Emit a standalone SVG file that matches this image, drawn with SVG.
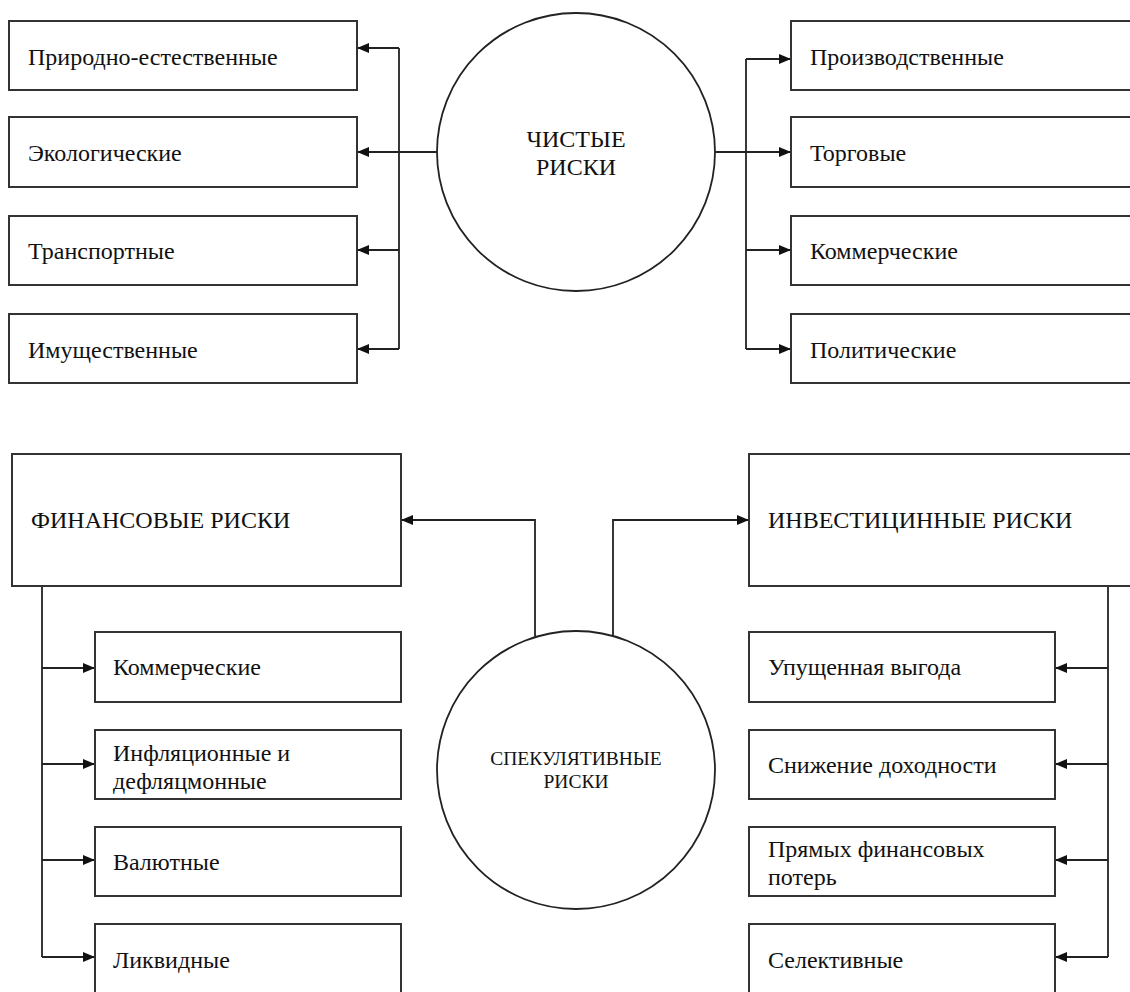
<svg xmlns="http://www.w3.org/2000/svg" width="1130" height="992" viewBox="0 0 1130 992">
<style>
.box{fill:#fff;stroke:#333;stroke-width:2}
.circ{fill:#fff;stroke:#222;stroke-width:1.8}
.t{font-family:"Liberation Serif","Times New Roman",serif;font-size:24px;fill:#111}
.tc{font-family:"Liberation Serif","Times New Roman",serif;font-size:24px;fill:#111;text-anchor:middle}
.ts{font-family:"Liberation Serif","Times New Roman",serif;font-size:19.5px;fill:#111;text-anchor:middle}
.c{fill:none;stroke:#222;stroke-width:1.8}
</style>
<defs>
<marker id="ah" viewBox="0 0 12 10" refX="12" refY="5" markerWidth="12" markerHeight="10" markerUnits="userSpaceOnUse" orient="auto">
<path d="M0,0 L12,5 L0,10 Z" fill="#111"/>
</marker>
</defs>
<rect width="1130" height="992" fill="#fff"/>
<g id="connectors">
<path class="c" d="M399,48 V349"/>
<path class="c" d="M437,152 H399"/>
<path class="c" d="M399,48 H357" marker-end="url(#ah)"/>
<path class="c" d="M399,152 H357" marker-end="url(#ah)"/>
<path class="c" d="M399,250 H357" marker-end="url(#ah)"/>
<path class="c" d="M399,349 H357" marker-end="url(#ah)"/>
<path class="c" d="M746,59 V349"/>
<path class="c" d="M715,152 H791" marker-end="url(#ah)"/>
<path class="c" d="M746,59 H791" marker-end="url(#ah)"/>
<path class="c" d="M746,250 H791" marker-end="url(#ah)"/>
<path class="c" d="M746,349 H791" marker-end="url(#ah)"/>
<path class="c" d="M535,636 V520 H401" marker-end="url(#ah)"/>
<path class="c" d="M613,636 V520 H749" marker-end="url(#ah)"/>
<path class="c" d="M42,586 V957"/>
<path class="c" d="M42,668 H95" marker-end="url(#ah)"/>
<path class="c" d="M42,764 H95" marker-end="url(#ah)"/>
<path class="c" d="M42,860 H95" marker-end="url(#ah)"/>
<path class="c" d="M42,957 H95" marker-end="url(#ah)"/>
<path class="c" d="M1108,586 V957"/>
<path class="c" d="M1108,668 H1055" marker-end="url(#ah)"/>
<path class="c" d="M1108,764 H1055" marker-end="url(#ah)"/>
<path class="c" d="M1108,860 H1055" marker-end="url(#ah)"/>
<path class="c" d="M1108,957 H1055" marker-end="url(#ah)"/>
</g>
<g id="pure-risks"><circle class="circ" cx="576" cy="152" r="139"/><text class="tc" x="576" y="147">ЧИСТЫЕ</text><text class="tc" x="576" y="175">РИСКИ</text></g>
<g id="l1"><rect class="box" x="9" y="21" width="348" height="69"/><text class="t" x="28" y="65">Природно-естественные</text></g>
<g id="l2"><rect class="box" x="9" y="117" width="348" height="70"/><text class="t" x="28" y="161">Экологические</text></g>
<g id="l3"><rect class="box" x="9" y="216" width="348" height="69"/><text class="t" x="28" y="259">Транспортные</text></g>
<g id="l4"><rect class="box" x="9" y="314" width="348" height="69"/><text class="t" x="28" y="358">Имущественные</text></g>
<g id="r1"><rect class="box" x="791" y="21" width="345" height="69"/><text class="t" x="810" y="65">Производственные</text></g>
<g id="r2"><rect class="box" x="791" y="117" width="345" height="70"/><text class="t" x="810" y="161">Торговые</text></g>
<g id="r3"><rect class="box" x="791" y="216" width="345" height="69"/><text class="t" x="810" y="259">Коммерческие</text></g>
<g id="r4"><rect class="box" x="791" y="314" width="345" height="69"/><text class="t" x="810" y="358">Политические</text></g>
<g id="fin"><rect class="box" x="12" y="454" width="389" height="132"/><text class="t" x="31" y="528">ФИНАНСОВЫЕ РИСКИ</text></g>
<g id="inv"><rect class="box" x="749" y="454" width="390" height="132"/><text class="t" x="768" y="528">ИНВЕСТИЦИННЫЕ РИСКИ</text></g>
<g id="spec"><circle class="circ" cx="576" cy="770" r="139"/><text class="ts" x="576" y="765">СПЕКУЛЯТИВНЫЕ</text><text class="ts" x="576" y="788">РИСКИ</text></g>
<g id="f1"><rect class="box" x="95" y="632" width="306" height="70"/><text class="t" x="113" y="675">Коммерческие</text></g>
<g id="f2"><rect class="box" x="95" y="730" width="306" height="69"/><text class="t" x="113" y="761">Инфляционные и</text><text class="t" x="113" y="789">дефляцмонные</text></g>
<g id="f3"><rect class="box" x="95" y="827" width="306" height="69"/><text class="t" x="113" y="870">Валютные</text></g>
<g id="f4"><rect class="box" x="95" y="924" width="306" height="70"/><text class="t" x="113" y="968">Ликвидные</text></g>
<g id="i1"><rect class="box" x="749" y="632" width="306" height="70"/><text class="t" x="768" y="675">Упущенная выгода</text></g>
<g id="i2"><rect class="box" x="749" y="730" width="306" height="69"/><text class="t" x="768" y="773">Снижение доходности</text></g>
<g id="i3"><rect class="box" x="749" y="827" width="306" height="69"/><text class="t" x="768" y="857">Прямых финансовых</text><text class="t" x="768" y="885">потерь</text></g>
<g id="i4"><rect class="box" x="749" y="924" width="306" height="70"/><text class="t" x="768" y="968">Селективные</text></g>
</svg>
